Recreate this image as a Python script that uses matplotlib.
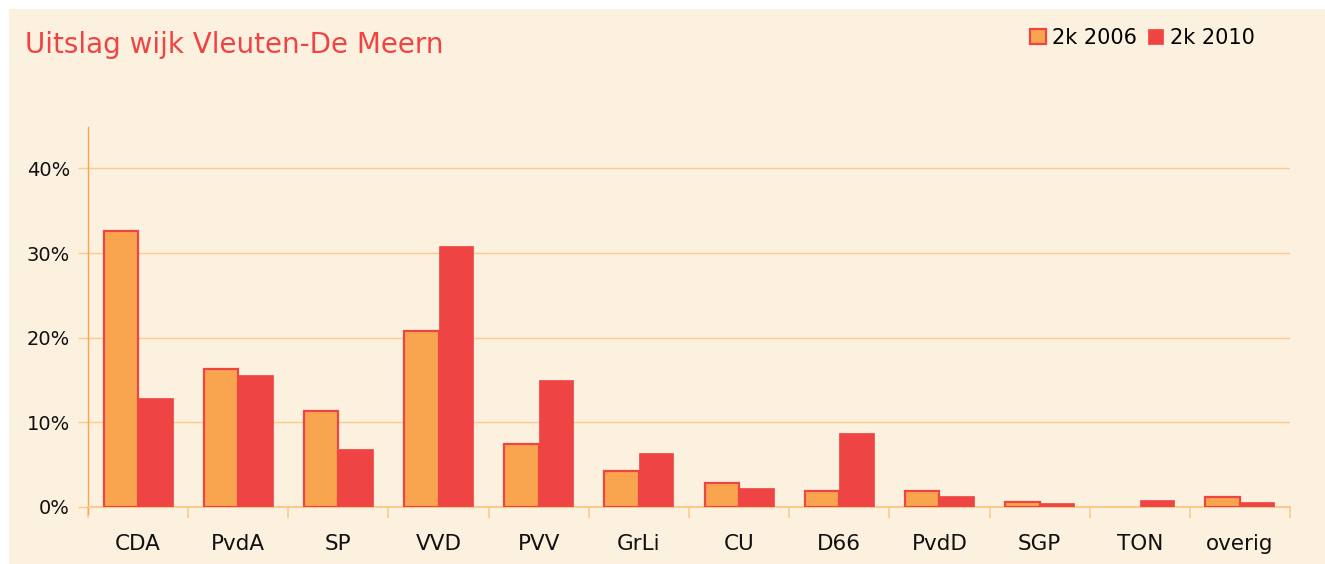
import numpy as np
import matplotlib
matplotlib.use("Agg")
from matplotlib import pyplot as plt
from matplotlib.patches import Rectangle

# chart data (percent of votes)
parties = ["CDA", "PvdA", "SP", "VVD", "PVV", "GrLi", "CU", "D66", "PvdD", "SGP", "TON", "overig"]
votes_2006 = [32.6, 16.3, 11.3, 20.8, 7.4, 4.2, 2.8, 1.9, 1.8, 0.5, 0.0, 1.1]
votes_2010 = [12.8, 15.6, 6.8, 30.8, 15.0, 6.4, 2.2, 8.7, 1.3, 0.45, 0.8, 0.5]
series_names = ["2k 2006", "2k 2010"]
y_ticks = [0, 10, 20, 30, 40]

# colours
cream = "#FCF0DE"
orange = "#F9A54F"
red = "#EF4444"
grid_col = "#FBCB8E"
axis_col = "#F5A54A"

W, H = 1325, 564
fig = plt.figure(figsize=(W / 100, H / 100), dpi=100)
fig.patch.set_facecolor("white")
fig.patches.append(Rectangle((9 / W, 0), 1 - 9 / W, 1 - 9 / H, transform=fig.transFigure,
                             facecolor=cream, edgecolor="none", zorder=-10))

ax = fig.add_axes([88 / W, (H - 506.7) / H, (1290 - 88) / W, (506.7 - 127) / H])
ax.set_facecolor("none")

x = np.arange(len(parties))
width = 0.345
# no outline on empty bars (TON 2006)
lw_2006 = [1.6 if v > 0 else 0 for v in votes_2006]
ax.bar(x - width / 2, votes_2006, width, color=orange, edgecolor=red, linewidth=lw_2006,
       label=series_names[0], zorder=3)
ax.bar(x + width / 2, votes_2010, width, color=red, edgecolor=red, linewidth=0.5,
       label=series_names[1], zorder=3)

ax.set_xlim(-0.5, len(parties) - 0.5)
ax.set_ylim(0, 44.9)

# gridlines
ax.set_yticks(y_ticks)
ax.set_yticklabels([f"{t}%" for t in y_ticks], fontsize=14)
ax.yaxis.grid(True, color=grid_col, linewidth=1)
ax.set_axisbelow(True)
ax.tick_params(axis="y", length=7, color=grid_col, width=1, pad=6, labelcolor="#111111")

# x ticks at category boundaries, labels at centers
ax.set_xticks(np.arange(len(parties) + 1) - 0.5)
ax.set_xticklabels([])
ax.set_xticks(x, minor=True)
ax.set_xticklabels(parties, minor=True, fontsize=15.5)
ax.tick_params(axis="x", which="major", length=8, color=grid_col, width=1.2, direction="out")
ax.tick_params(axis="x", which="minor", length=0, pad=20, labelcolor="#111111")

for s in ["top", "right"]:
    ax.spines[s].set_visible(False)
ax.spines["bottom"].set_color(grid_col)
ax.spines["bottom"].set_linewidth(1.5)
ax.spines["left"].set_color(axis_col)
ax.spines["left"].set_linewidth(1)
ax.spines["left"].set_bounds(-0.9, 44.9)

fig.text(25 / W, 1 - 45 / H, "Uitslag wijk Vleuten-De Meern", color=red, fontsize=20,
         va="center", ha="left")

leg = fig.legend(loc="center left", bbox_to_anchor=(1022 / W, 1 - 38 / H), ncol=2,
                 frameon=False, fontsize=15, handlelength=0.75, handleheight=0.75,
                 handletextpad=0.3, columnspacing=0.5, borderaxespad=0)

fig.savefig("out.png", dpi=100, facecolor=fig.get_facecolor())
